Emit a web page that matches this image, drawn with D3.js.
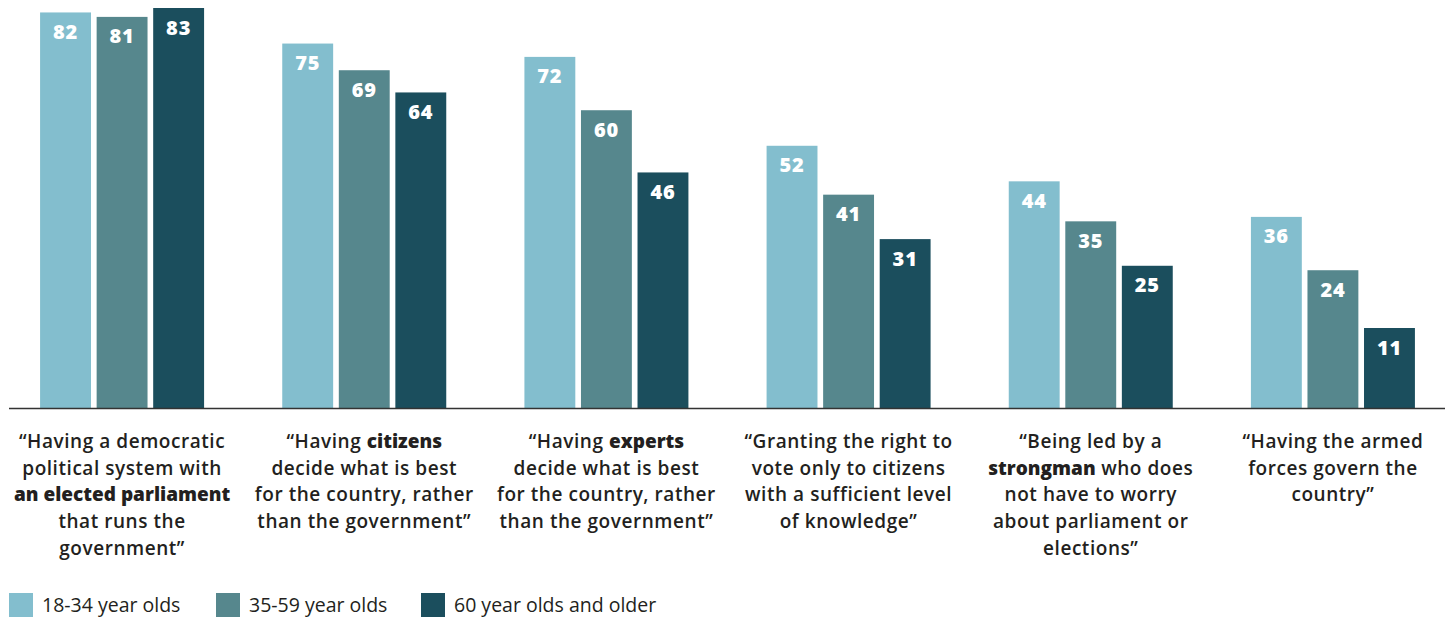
<!DOCTYPE html>
<html><head><meta charset="utf-8">
<script src="https://cdn.jsdelivr.net/npm/d3@7"></script>
<style>
html,body{margin:0;padding:0;background:#fff;}
svg{display:block;font-family:"Open Sans",sans-serif;}
</style></head>
<body><svg id="c" width="1447" height="618"></svg>
<script>
const categories = [
  ["“Having a democratic","political system with","**an elected parliament**","that runs the","government”"],
  ["“Having **citizens**","decide what is best","for the country, rather","than the government”"],
  ["“Having **experts**","decide what is best","for the country, rather","than the government”"],
  ["“Granting the right to","vote only to citizens","with a sufficient level","of knowledge”"],
  ["“Being led by a","**strongman** who does","not have to worry","about parliament or","elections”"],
  ["“Having the armed","forces govern the","country”"]
];
const seriesNames = ["18-34 year olds","35-59 year olds","60 year olds and older"];
const young = [82,75,72,52,44,36];
const middle = [81,69,60,41,35,24];
const old = [83,64,46,31,25,11];
const colors = ["#83bece","#56878d","#1b4e5d"];

const series = [young, middle, old];
const svg = d3.select("#c");
const baseY = 408;
const x0 = d3.scaleBand().domain(d3.range(categories.length)).range([1,1454]).paddingInner(0).paddingOuter(0);
const x1 = d3.scaleBand().domain(d3.range(3)).range([0,164]).paddingInner(0.1);
const y = d3.scaleLinear().domain([-7,83]).range([baseY,8]);

const g = svg.append("g");
categories.forEach((cat,i)=>{
  const gx = x0(i) + x0.bandwidth()/2 - 82;
  series.forEach((s,j)=>{
    const v = s[i];
    g.append("rect").attr("x",gx + x1(j)).attr("y",y(v)).attr("width",x1.bandwidth())
      .attr("height",baseY - y(v)).attr("fill",colors[j]);
    g.append("text").attr("x",gx + x1(j) + x1.bandwidth()/2).attr("y",y(v)+26.5)
      .attr("text-anchor","middle").attr("fill","#fff").attr("font-size",20).attr("font-weight",800)
      .attr("letter-spacing",0.8).text(v);
  });
  const cx = x0(i) + x0.bandwidth()/2;
  cat.forEach((line,k)=>{
    const t = g.append("text").attr("x",cx).attr("y",448 + k*26.7).attr("text-anchor","middle")
      .attr("font-size",19).attr("fill","#231f20").attr("font-weight",600);
    line.split("**").forEach((part,p)=>{
      if(!part) return;
      const bold = p%2===1;
      t.append("tspan").attr("font-weight", bold ? 800 : 600)
        .attr("letter-spacing", bold ? 0 : 0.55).text(part);
    });
  });
});
svg.append("line").attr("x1",9).attr("x2",1445).attr("y1",baseY+0.5).attr("y2",baseY+0.5)
  .attr("stroke","#333").attr("stroke-width",1.5);

const legX = [9,216,421];
seriesNames.forEach((n,j)=>{
  svg.append("rect").attr("x",legX[j]).attr("y",593).attr("width",24).attr("height",24).attr("fill",colors[j]);
  svg.append("text").attr("x",legX[j]+33).attr("y",612).attr("font-size",19.5).attr("fill","#231f20")
    .attr("font-weight",500).text(n);
});
</script></body></html>
